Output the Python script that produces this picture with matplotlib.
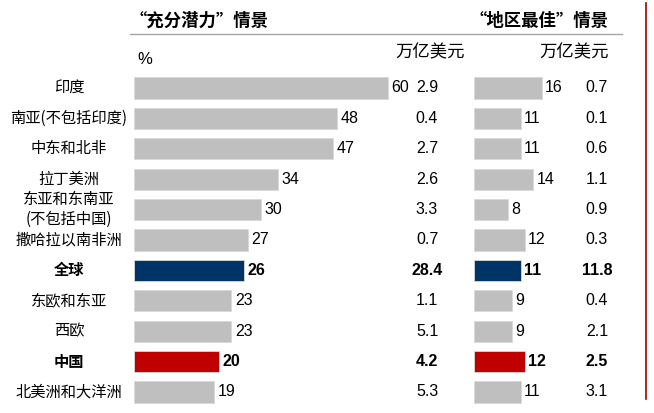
import numpy as np
import matplotlib.pyplot as plt
import matplotlib.transforms as mtransforms
from matplotlib.lines import Line2D

plt.rcParams['font.family'] = ['Noto Sans CJK SC', 'DejaVu Sans']

# Data
regions = ['印度', '南亚(不包括印度)', '中东和北非', '拉丁美洲', '东亚和东南亚\n(不包括中国)',
           '撒哈拉以南非洲', '全球', '东欧和东亚', '西欧', '中国', '北美洲和大洋洲']
full_pct = [60, 48, 47, 34, 30, 27, 26, 23, 23, 20, 19]
full_usd = [2.9, 0.4, 2.7, 2.6, 3.3, 0.7, 28.4, 1.1, 5.1, 4.2, 5.3]
best_pct = [16, 11, 11, 14, 8, 12, 11, 9, 9, 12, 11]
best_usd = [0.7, 0.1, 0.6, 1.1, 0.9, 0.3, 11.8, 0.4, 2.1, 2.5, 3.1]

GREY = '#BFBFBF'
NAVY = '#003366'
RED = '#C00000'
colors = [NAVY if r == '全球' else RED if r == '中国' else GREY for r in regions]
bold = [r in ('全球', '中国') for r in regions]

W, H = 654, 413
fig = plt.figure(figsize=(W / 100, H / 100), dpi=100)

def px_box(x0, x1, y0, y1):
    # pixel box (from top-left) -> figure fraction
    return [x0 / W, 1 - y1 / H, (x1 - x0) / W, (y1 - y0) / H]

scale = 4.23  # px per percent
y_top, y_bot = 72.8, 407.2
y = np.arange(len(regions))

ax1 = fig.add_axes(px_box(134, 470, y_top, y_bot))
ax2 = fig.add_axes(px_box(474, 640, y_top, y_bot))
ax1.set_xlim(0, 336 / scale)
ax2.set_xlim(0, 166 / scale)

num_font = 'Liberation Sans'

for ax, vals in ((ax1, full_pct), (ax2, best_pct)):
    ax.barh(y, vals, height=0.7, color=colors, edgecolor='#D9D9D9', linewidth=0.6)
    ax.set_ylim(len(regions) - 0.5, -0.5)
    ax.axis('off')
    for i, v in enumerate(vals):
        ax.annotate(str(v), xy=(v, i), xytext=(2.5, 0), textcoords='offset points',
                    ha='left', va='center', fontsize=11.5, family=num_font,
                    fontweight='bold' if bold[i] else 'normal')

# trillion USD columns
for ax, vals, xc in ((ax1, full_usd, 427), (ax2, best_usd, 597)):
    tr = mtransforms.blended_transform_factory(fig.transFigure, ax.transData)
    for i, v in enumerate(vals):
        ax.text(xc / W, i, f'{v:.1f}', ha='center', va='center', fontsize=11.5,
                family=num_font, fontweight='bold' if bold[i] else 'normal',
                transform=tr, clip_on=False)

# region labels
tr = mtransforms.blended_transform_factory(fig.transFigure, ax1.transData)
for i, r in enumerate(regions):
    ax1.text(69 / W, i, r, ha='center', va='center', fontsize=11,
             fontweight='bold' if bold[i] else 'normal', linespacing=1.25,
             transform=tr, clip_on=False)

# headers
fig.text(130 / W, 1 - 21 / H, '“充分潜力”情景', fontsize=12.5, fontweight='bold', va='center', ha='left')
fig.text(609 / W, 1 - 21 / H, '“地区最佳”情景', fontsize=12.5, fontweight='bold', va='center', ha='right')
fig.text(137 / W, 1 - 60 / H, '%', fontsize=12, family=num_font, va='center', ha='left')
fig.text(430 / W, 1 - 52 / H, '万亿美元', fontsize=12.5, va='center', ha='center')
fig.text(574 / W, 1 - 52 / H, '万亿美元', fontsize=12.5, va='center', ha='center')

fig.add_artist(Line2D([130 / W, 622 / W], [1 - 34 / H, 1 - 34 / H], color='#A6A6A6', lw=1.0))
fig.add_artist(Line2D([646 / W, 646 / W], [1 - 3 / H, 1 - 399 / H], color='#A00000', lw=1.2))

plt.savefig('out.png', dpi=100)
